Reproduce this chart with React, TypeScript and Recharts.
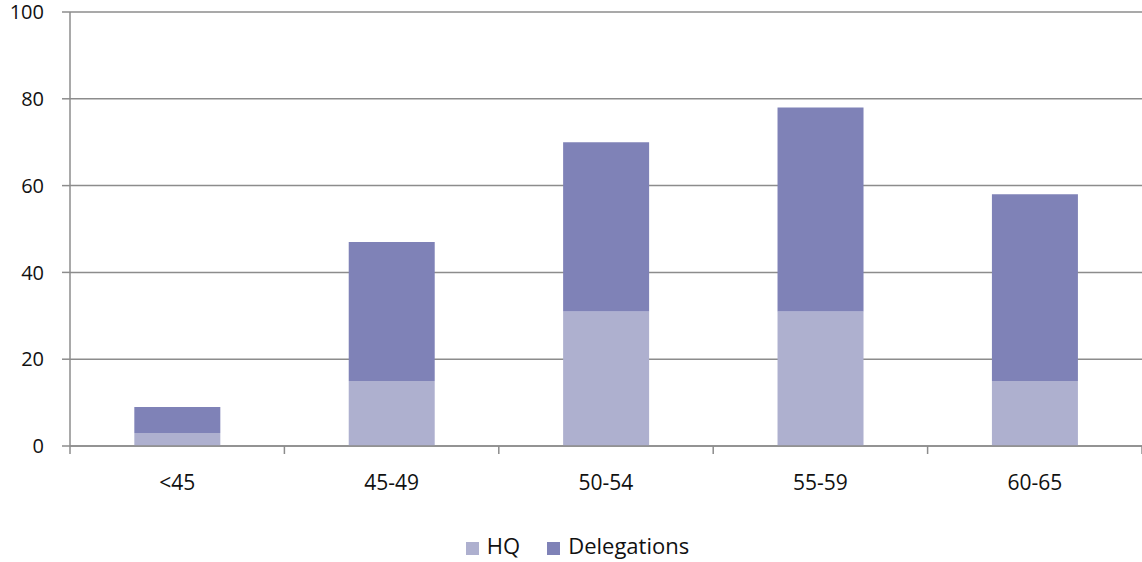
import React from 'react';
import { BarChart, Bar, XAxis, YAxis, CartesianGrid, Legend } from 'recharts';

const categories = ['<45', '45-49', '50-54', '55-59', '60-65'];
const hqValues = [3, 15, 31, 31, 15];
const delegationValues = [6, 32, 39, 47, 43];
const yTicks = [0, 20, 40, 60, 80, 100];
const seriesOrder = ['HQ', 'Delegations'];

const data = categories.map((c, i) => ({ name: c, HQ: hqValues[i], Delegations: delegationValues[i] }));

const FONT = '"Open Sans", Lato, sans-serif';
const AXIS = '#8c8c8c';

const XTick = (props: any) => {
  const { x, y, payload, index, visibleTicksCount, width } = props;
  const half = payload && payload.offset ? payload.offset : width / 10;
  const axisY = y - 29;
  const last = index === (visibleTicksCount ?? categories.length) - 1;
  return (
    <g>
      <line x1={x - half} x2={x - half} y1={axisY} y2={axisY + 8} stroke={AXIS} strokeWidth={1.5} />
      {last && <line x1={x + half} x2={x + half} y1={axisY} y2={axisY + 8} stroke={AXIS} strokeWidth={1.5} />}
      <text x={x} y={y} dy="0.71em" textAnchor="middle" fill="#111" fontSize={21} fontFamily={FONT}>
        {payload.value}
      </text>
    </g>
  );
};

export default function App() {
  return (
    <div style={{ position: 'absolute', left: 0, top: 0, width: 1142, height: 562, background: '#fff' }}>
      <BarChart width={1142} height={562} data={data} margin={{ top: 12, right: 0, left: 0, bottom: 2 }} barCategoryGap="30%">
        <CartesianGrid vertical={false} stroke={AXIS} strokeWidth={1.5} />
        <XAxis
          dataKey="name"
          height={84}
          tickSize={8}
          tickMargin={21}
          tickLine={false}
          axisLine={{ stroke: AXIS, strokeWidth: 1.5 }}
          tick={<XTick />}
          interval={0}
        />
        <YAxis
          width={70}
          domain={[0, 100]}
          ticks={yTicks}
          tickSize={8}
          tickMargin={18}
          tickLine={{ stroke: AXIS, strokeWidth: 1.5 }}
          axisLine={{ stroke: AXIS, strokeWidth: 1.5 }}
          tick={{ fill: '#111', fontSize: 20, fontFamily: FONT }}
        />
        <Legend
          verticalAlign="bottom"
          align="center"
          iconType="square"
          iconSize={13}
          itemSorter={(item: any) => seriesOrder.indexOf(item.value)}
          wrapperStyle={{ fontFamily: FONT, fontSize: 22, color: '#111', paddingLeft: 20 }}
          formatter={(v: string) => <span style={{ color: '#111', marginLeft: 4, marginRight: 17 }}>{v}</span>}
        />
        <Bar dataKey="HQ" stackId="a" fill="#aeb0cf" isAnimationActive={false} />
        <Bar dataKey="Delegations" stackId="a" fill="#7f82b7" isAnimationActive={false} />
      </BarChart>
    </div>
  );
}
